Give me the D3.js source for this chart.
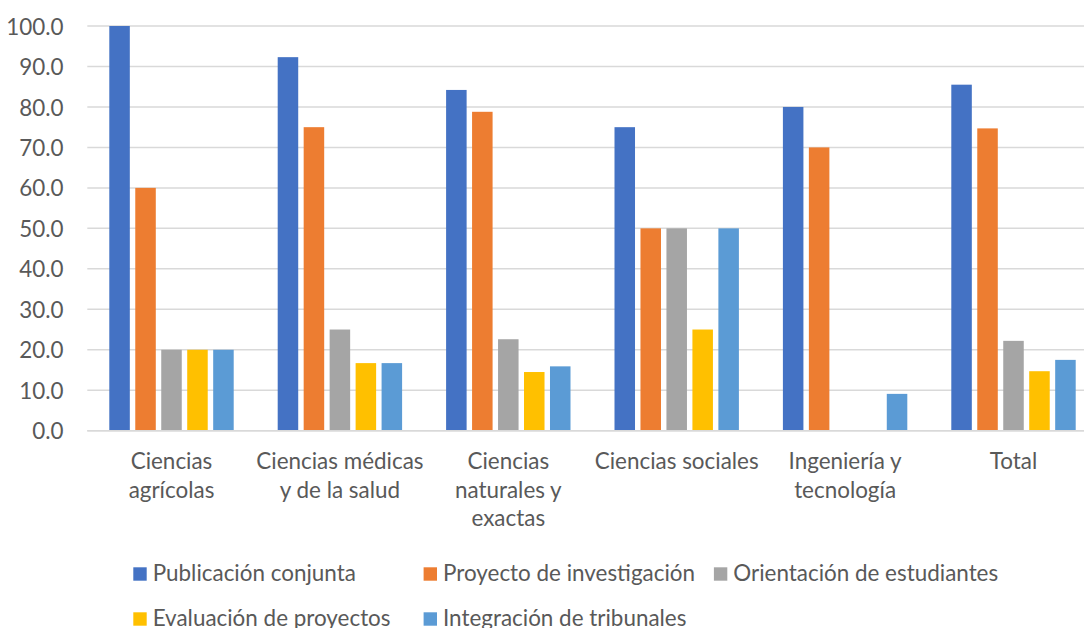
<!DOCTYPE html>
<html><head><meta charset="utf-8">
<script src="https://cdn.jsdelivr.net/npm/d3@7"></script>
<style>body{margin:0;background:#fff;overflow:hidden}</style>
</head><body>
<svg id="c" width="1084" height="628"></svg>
<script>
// ---- data ----
const categories = ["Ciencias agrícolas","Ciencias médicas y de la salud","Ciencias naturales y exactas","Ciencias sociales","Ingeniería y tecnología","Total"];
const categoryLines = [["Ciencias","agrícolas"],["Ciencias médicas","y de la salud"],["Ciencias","naturales y","exactas"],["Ciencias sociales"],["Ingeniería y","tecnología"],["Total"]];
const seriesNames = ["Publicación conjunta","Proyecto de investigación","Orientación de estudiantes","Evaluación de proyectos","Integración de tribunales"];
const publicacionConjunta      = [100.0, 92.3, 84.2, 75.0, 80.0, 85.5];
const proyectoInvestigacion    = [60.0, 75.0, 78.8, 50.0, 70.0, 74.7];
const orientacionEstudiantes   = [20.0, 25.0, 22.6, 50.0, 0.0, 22.2];
const evaluacionProyectos      = [20.0, 16.7, 14.5, 25.0, 0.0, 14.7];
const integracionTribunales    = [20.0, 16.7, 15.9, 50.0, 9.1, 17.5];
const yTicks = [0,10,20,30,40,50,60,70,80,90,100];
const colors = ["#4472C4","#ED7D31","#A5A5A5","#FFC000","#5B9BD5"];

const seriesValues = [publicacionConjunta, proyectoInvestigacion, orientacionEstudiantes, evaluacionProyectos, integracionTribunales];

(function () {
const svg = d3.select("#c");
const FONT = "Lato, 'Open Sans', 'Liberation Sans', sans-serif";
const textColor = "#595959";

// fit font size so that text width resembles the reference
const probe = svg.append("text").attr("font-family", FONT).attr("font-size", 100).text("Ciencias sociales");
const probeLen = probe.node().getComputedTextLength();
probe.remove();
const fs = 100 * 164 / probeLen;

const plotL = 87.3, plotR = 1097.7, plotT = 26, plotB = 430.7;

const x0 = d3.scaleBand().domain(categories).range([plotL, plotR]).padding(0);
const bw = x0.bandwidth();
const groupPad = 22;
const x1 = d3.scaleBand().domain(d3.range(seriesNames.length)).range([groupPad, bw - groupPad]).paddingInner(0.21).paddingOuter(0);
const y = d3.scaleLinear().domain([0, 100]).range([plotB, plotT]);

// gridlines
svg.append("g").selectAll("line").data(yTicks).join("line")
  .attr("x1", plotL).attr("x2", plotR)
  .attr("y1", d => y(d)).attr("y2", d => y(d))
  .attr("stroke", "#d9d9d9").attr("stroke-width", 1.5);

// y axis labels
const yAxis = d3.axisLeft(y).tickValues(yTicks).tickFormat(d3.format(".1f")).tickSize(0).tickPadding(0);
const ya = svg.append("g").attr("transform", `translate(${63.5},0)`).call(yAxis);
ya.select(".domain").remove();
ya.selectAll("text").attr("font-family", FONT).attr("font-size", fs).attr("fill", textColor).attr("dy", "0.36em");

// bars
const groups = svg.append("g").selectAll("g").data(categories).join("g")
  .attr("transform", d => `translate(${x0(d)},0)`);
groups.selectAll("rect").data((d, ci) => seriesValues.map((vals, si) => ({si, v: vals[ci]})))
  .join("rect")
  .attr("x", d => x1(d.si)).attr("width", x1.bandwidth())
  .attr("y", d => y(d.v)).attr("height", d => y(0) - y(d.v))
  .attr("fill", d => colors[d.si]);

// baseline
svg.append("line").attr("x1", plotL).attr("x2", plotR).attr("y1", y(0)).attr("y2", y(0))
  .attr("stroke", "#d9d9d9").attr("stroke-width", 1.5);

// category labels
const xl = svg.append("g");
categories.forEach((c, i) => {
  const t = xl.append("text").attr("text-anchor", "middle")
    .attr("font-family", FONT).attr("font-size", fs).attr("fill", textColor);
  categoryLines[i].forEach((ln, j) => {
    t.append("tspan").attr("x", x0(c) + bw / 2).attr("y", 469 + j * 28.7).text(ln);
  });
});

// legend
const legX = 133.3, legColW = 290.3, legRowY = [567.3, 612.3], sw = 13.4;
const leg = svg.append("g").selectAll("g").data(seriesNames).join("g")
  .attr("transform", (d, i) => `translate(${legX + (i % 3) * legColW},${legRowY[Math.floor(i / 3)]})`);
leg.append("rect").attr("width", sw).attr("height", sw).attr("fill", (d, i) => colors[i]);
leg.append("text").attr("x", 19.4).attr("y", sw).attr("font-family", FONT).attr("font-size", fs)
  .attr("fill", textColor).text(d => d);
})();
</script>
</body></html>
